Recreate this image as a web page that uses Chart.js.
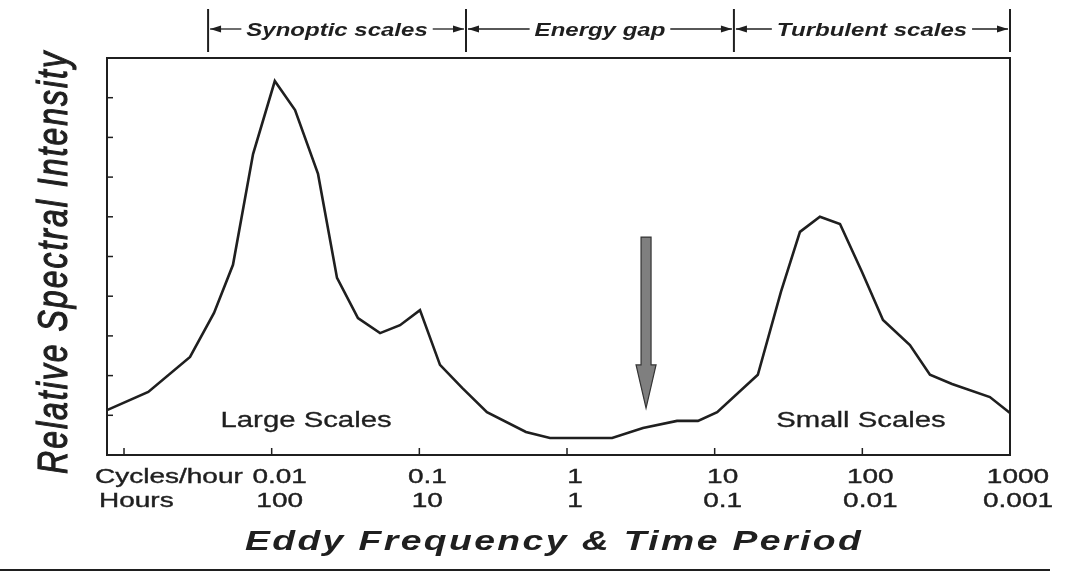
<!DOCTYPE html>
<html>
<head>
<meta charset="utf-8">
<script src="https://cdn.jsdelivr.net/npm/chart.js@4/dist/chart.umd.min.js"></script>
<style>
  html, body { margin: 0; padding: 0; background: #fff; }
  #wrap { width: 1073px; height: 576px; }
</style>
</head>
<body>
<div id="wrap"><canvas id="spectrum" width="1073" height="576"></canvas></div>
<script>
// eddy frequency in cycles/hour (log axis) and relative spectral intensity
const freq = [0.000767, 0.00146, 0.0028, 0.00407, 0.00547, 0.00748, 0.0105, 0.0144, 0.0206, 0.0277,
  0.0384, 0.0542, 0.074, 0.101, 0.138, 0.195, 0.287, 0.527, 0.767, 2.02,
  3.27, 5.56, 7.71, 10.4, 19.6, 28.1, 37.8, 51.6, 70.6, 99.5,
  138, 210, 287, 405, 731, 1000]
const intensity = [1.13, 1.59, 2.47, 3.58, 4.79, 7.58, 9.42, 8.69, 7.08, 4.46,
  3.45, 3.07, 3.27, 3.65, 2.27, 1.69, 1.08, 0.58, 0.43, 0.43,
  0.68, 0.86, 0.86, 1.08, 2.02, 4.11, 5.62, 6.0, 5.82, 4.61,
  3.40, 2.77, 2.02, 1.79, 1.46, 1.06]

const xTicks = [0.001, 0.01, 0.1, 1, 10, 100, 1000]
const cycleLabels = ['', '0.01', '0.1', '1', '10', '100', '1000']
const hourLabels = ['', '100', '10', '1', '0.1', '0.01', '0.001']
const yTicks = [1, 2, 3, 4, 5, 6, 7, 8, 9]

const bandEdges = [0.00371, 0.207, 13.5, 1000]
const bandNames = ['Synoptic scales', 'Energy gap', 'Turbulent scales']

const noteNames = ['Large Scales', 'Small Scales']
const noteFreq = [0.0171, 97.9]
const noteLevel = [0.7, 0.7]

// the grey "energy gap" arrow: frequency, top, head start, tip
const gapArrow = [3.43, 5.49, 2.27, 1.18]

const SX = 1.333   // the source figure is stretched sideways
const INK = '#1f1f1f'

function text(ctx, str, x, y, font, align, spacing, weight) {
  ctx.save()
  ctx.translate(x, y)
  ctx.scale(SX, 1)
  ctx.font = font
  ctx.letterSpacing = (spacing || 0) + 'px'
  ctx.textAlign = align
  ctx.textBaseline = 'alphabetic'
  ctx.fillStyle = INK
  ctx.fillText(str, 0, 0)
  if (weight) {
    ctx.strokeStyle = INK
    ctx.lineWidth = weight
    ctx.strokeText(str, 0, 0)
  }
  ctx.restore()
}

function head(ctx, x, y, dir) {
  ctx.beginPath()
  ctx.moveTo(x, y)
  ctx.lineTo(x - dir * 11, y - 3.5)
  ctx.lineTo(x - dir * 11, y + 3.5)
  ctx.closePath()
  ctx.fill()
}

const decorations = {
  id: 'decorations',
  afterDraw(chart) {
    const ctx = chart.ctx
    const a = chart.chartArea
    const xs = chart.scales.x
    const ys = chart.scales.y
    const plain = '21px "Liberation Sans", Arial'
    ctx.save()
    ctx.strokeStyle = INK
    ctx.fillStyle = INK

    // frame
    ctx.lineWidth = 2
    ctx.strokeRect(a.left, a.top, a.right - a.left, a.bottom - a.top)

    // inner tick marks and two rows of labels
    ctx.lineWidth = 1.5
    yTicks.forEach(v => {
      const y = ys.getPixelForValue(v)
      ctx.beginPath(); ctx.moveTo(a.left, y); ctx.lineTo(a.left + 6, y); ctx.stroke()
    })
    xTicks.forEach((v, i) => {
      const x = xs.getPixelForValue(v)
      if (x < a.right - 2) {
        ctx.beginPath(); ctx.moveTo(x, a.bottom); ctx.lineTo(x, a.bottom - 7); ctx.stroke()
      }
      if (cycleLabels[i]) text(ctx, cycleLabels[i], x + 8, 483, plain, 'center', 0, 0.4)
      if (hourLabels[i]) text(ctx, hourLabels[i], x + 8, 507, plain, 'center', 0, 0.4)
    })
    text(ctx, 'Cycles/hour', 95, 483, plain, 'left', 0, 0.4)
    text(ctx, 'Hours', 99, 507, plain, 'left', 0, 0.4)

    // axis titles
    text(ctx, 'Eddy Frequency & Time Period', 554, 550, 'italic bold 28px "Liberation Sans", Arial', 'center', 1.8)
    ctx.save()
    ctx.translate(67, 262)
    ctx.scale(SX, 1)
    ctx.rotate(-Math.PI / 2)
    ctx.font = 'italic 32px "Liberation Sans", Arial'
    ctx.letterSpacing = '2px'
    ctx.textAlign = 'center'
    ctx.fillText('Relative Spectral Intensity', 0, 0)
    ctx.lineWidth = 0.9
    ctx.strokeText('Relative Spectral Intensity', 0, 0)
    ctx.restore()

    // scale bands above the plot
    const bandFont = 'italic bold 18px "Liberation Sans", Arial'
    ctx.lineWidth = 2
    bandEdges.forEach(v => {
      const x = xs.getPixelForValue(v)
      ctx.beginPath(); ctx.moveTo(x, 9); ctx.lineTo(x, 52); ctx.stroke()
    })
    ctx.lineWidth = 1.3
    bandNames.forEach((name, i) => {
      const x0 = xs.getPixelForValue(bandEdges[i]) + 2
      const x1 = xs.getPixelForValue(bandEdges[i + 1]) - 2
      const cx = (x0 + x1) / 2
      ctx.font = bandFont
      const w = ctx.measureText(name).width * SX
      text(ctx, name, cx, 36, bandFont, 'center')
      const ly = 29
      ctx.beginPath(); ctx.moveTo(x0, ly); ctx.lineTo(cx - w / 2 - 5, ly); ctx.stroke()
      ctx.beginPath(); ctx.moveTo(cx + w / 2 + 5, ly); ctx.lineTo(x1, ly); ctx.stroke()
      head(ctx, x0, ly, -1)
      head(ctx, x1, ly, 1)
    })

    // region notes
    noteNames.forEach((n, i) => {
      text(ctx, n, xs.getPixelForValue(noteFreq[i]), ys.getPixelForValue(noteLevel[i]), '22px "Liberation Sans", Arial', 'center', 0, 0.3)
    })

    // grey arrow
    const ax = xs.getPixelForValue(gapArrow[0])
    const top = ys.getPixelForValue(gapArrow[1])
    const neck = ys.getPixelForValue(gapArrow[2])
    const tip = ys.getPixelForValue(gapArrow[3])
    ctx.beginPath()
    ctx.moveTo(ax - 5, top)
    ctx.lineTo(ax + 5, top)
    ctx.lineTo(ax + 5, neck)
    ctx.lineTo(ax + 10, neck)
    ctx.lineTo(ax, tip)
    ctx.lineTo(ax - 10, neck)
    ctx.lineTo(ax - 5, neck)
    ctx.closePath()
    ctx.fillStyle = '#7f7f7f'
    ctx.fill()
    ctx.strokeStyle = '#333'
    ctx.lineWidth = 1.2
    ctx.stroke()

    // rule under the figure
    ctx.strokeStyle = INK
    ctx.lineWidth = 2
    ctx.beginPath(); ctx.moveTo(0, 570); ctx.lineTo(1050, 570); ctx.stroke()
    ctx.restore()
  }
}

new Chart(document.getElementById('spectrum'), {
  type: 'line',
  data: {
    datasets: [
      {
        label: 'Relative Spectral Intensity',
        data: freq.map((f, i) => ({ x: f, y: intensity[i] })),
        borderColor: INK,
        borderWidth: 2.6,
        pointRadius: 0,
        tension: 0,
        fill: false,
        clip: false
      }
    ]
  },
  options: {
    responsive: false,
    animation: false,
    layout: { padding: { left: 107, top: 58, right: 63, bottom: 121 } },
    scales: {
      x: { type: 'logarithmic', min: 0.000767, max: 1000, display: false },
      y: { min: 0, max: 10, display: false }
    },
    plugins: {
      legend: { display: false },
      tooltip: { enabled: false }
    }
  },
  plugins: [decorations]
})
</script>
</body>
</html>
